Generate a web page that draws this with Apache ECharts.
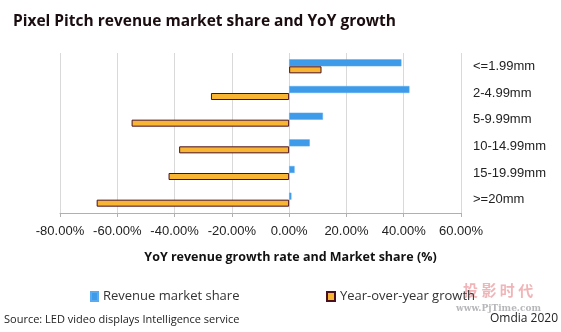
<!DOCTYPE html>
<html><head><meta charset="utf-8">
<script src="https://cdn.jsdelivr.net/npm/echarts@6/dist/echarts.min.js"></script>
<style>html,body{margin:0;padding:0;background:#fff}#c{width:561px;height:332px}</style>
</head><body><div id="c"></div>
<script>
const categories = ['<=1.99mm','2-4.99mm','5-9.99mm','10-14.99mm','15-19.99mm','>=20mm'];
const marketShare = [39.2, 42.0, 11.8, 7.2, 1.9, 0.8];
const yoyGrowth = [11.3, -27.3, -55.0, -38.4, -42.1, -67.2];
const xTicks = {min: -80, max: 60, interval: 20};
const seriesNames = ['Revenue market share', 'Year-over-year growth'];

const chart = echarts.init(document.getElementById('c'));
const F = '"Open Sans", Lato, sans-serif';
const A = '"Liberation Sans", Arial, sans-serif';
chart.setOption({
  animation: false,
  title: {
    text: 'Pixel Pitch revenue market share and YoY growth',
    left: 8, top: 9,
    textStyle: {fontFamily: F, fontWeight: 'bold', fontSize: 15.5, color: '#1a0d10'}
  },
  grid: {left: 60, right: 100, top: 53, bottom: 119},
  legend: [
    {data: [seriesNames[0]], left: 85, top: 285, icon: 'rect', itemWidth: 7, itemHeight: 9, itemGap: 5,
     textStyle: {fontFamily: F, fontSize: 13, color: '#333'}},
    {data: [seriesNames[1]], left: 321, top: 285, icon: 'rect', itemWidth: 8, itemHeight: 9,
     textStyle: {fontFamily: F, fontSize: 13, color: '#333'}}
  ],
  xAxis: {
    type: 'value', min: xTicks.min, max: xTicks.max, interval: xTicks.interval,
    name: 'YoY revenue growth rate and Market share (%)',
    nameLocation: 'middle', nameGap: 38,
    nameTextStyle: {fontFamily: F, fontWeight: 'bold', fontSize: 12.5, color: '#111', padding: [0,0,0,60]},
    axisLine: {show: true, lineStyle: {color: '#b0b0b0', width: 1}},
    axisTick: {show: true, length: 4, lineStyle: {color: '#b0b0b0'}},
    axisLabel: {formatter: v => v.toFixed(2) + '%', fontFamily: A, fontSize: 13, color: '#222', margin: 12},
    splitLine: {show: true, lineStyle: {color: '#d9d9d9', width: 1}}
  },
  yAxis: {
    type: 'category', data: categories, inverse: true, position: 'right',
    axisLine: {show: false}, axisTick: {show: false},
    axisLabel: {fontFamily: A, fontSize: 13, color: '#222', margin: 12}
  },
  series: [
    {name: seriesNames[0], type: 'bar', data: marketShare, barWidth: 7, barGap: '0%',
     itemStyle: {color: '#3d9be9', borderColor: '#5aaaf0', borderWidth: 0.5}},
    {name: seriesNames[1], type: 'bar', data: yoyGrowth, barWidth: 7, barGap: '0%',
     itemStyle: {color: '#f7b533', borderColor: '#4a1020', borderWidth: 1}}
  ],
  graphic: [
    {type: 'text', left: 4, top: 314, style: {text: 'Source: LED video displays Intelligence service', font: '11px "Open Sans", sans-serif', fill: '#222'}},
    {type: 'text', right: 3, top: 313, style: {text: 'Omdia 2020', font: '12px "Open Sans", sans-serif', fill: '#222'}},
    {type: 'text', left: 463, top: 283, style: {text: '投 影 时 代', font: 'bold 15px "Noto Sans CJK SC"', fill: 'rgba(225,120,125,0.55)'}},
    {type: 'text', left: 456, top: 304, style: {text: 'www.PjTime.com', font: 'bold 9px "DejaVu Serif", serif', fill: 'rgba(170,170,175,0.85)'}}
  ]
});
</script></body></html>
